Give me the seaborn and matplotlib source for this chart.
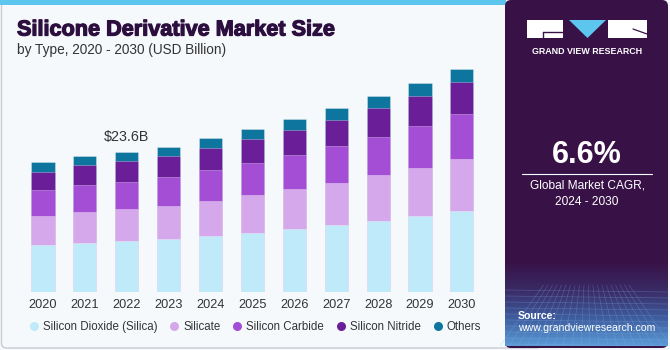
import numpy as np
import pandas as pd
import matplotlib
matplotlib.use("Agg")
import matplotlib.pyplot as plt
import matplotlib.patheffects as pe
import seaborn as sns
from matplotlib.patches import Rectangle, FancyBboxPatch, Polygon
from matplotlib.lines import Line2D
from matplotlib.colors import LinearSegmentedColormap

# ---------------- data ----------------
years = ["2020", "2021", "2022", "2023", "2024", "2025", "2026", "2027", "2028", "2029", "2030"]
series_names = ["Silicon Dioxide (Silica)", "Silicate", "Silicon Carbide", "Silicon Nitride", "Others"]
silicon_dioxide = [7.89, 8.28, 8.57, 8.91, 9.41, 9.97, 10.60, 11.27, 11.95, 12.79, 13.64]
silicate = [4.90, 5.19, 5.36, 5.58, 5.92, 6.32, 6.76, 7.15, 7.72, 8.16, 8.79]
silicon_carbide = [4.34, 4.51, 4.61, 4.85, 5.19, 5.46, 5.75, 6.15, 6.52, 7.05, 7.55]
silicon_nitride = [3.14, 3.38, 3.50, 3.60, 3.77, 4.01, 4.28, 4.50, 4.90, 5.12, 5.46]
others = [1.59, 1.57, 1.57, 1.57, 1.64, 1.74, 1.81, 1.93, 1.93, 2.10, 2.15]
colors = ["#bfeaf9", "#d5a8eb", "#a44ed6", "#6a1e98", "#0e769e"]
label_year = "2022"
label_text = "$23.6B"

df = pd.DataFrame({"year": years,
                   series_names[0]: silicon_dioxide,
                   series_names[1]: silicate,
                   series_names[2]: silicon_carbide,
                   series_names[3]: silicon_nitride,
                   series_names[4]: others})

sns.set_theme(style="white")
plt.rcParams["font.family"] = ["Liberation Sans", "DejaVu Sans"]

W, H = 670, 350
fig = plt.figure(figsize=(W / 100, H / 100), dpi=100)
fig.patch.set_facecolor("#f5f9fc")

# background canvas in pixel coordinates
bg = fig.add_axes([0, 0, 1, 1], zorder=0)
bg.set_xlim(0, W)
bg.set_ylim(H, 0)
bg.axis("off")

# left panel border
bg.add_patch(FancyBboxPatch((1.5, -10), 540, 358, boxstyle="round,pad=0,rounding_size=5",
                            facecolor="#f5f9fc", edgecolor="#c9ccd0", lw=1.0))
# top stripe
bg.add_patch(Rectangle((0, 0), 506, 4.5, facecolor="#5cc6ee", edgecolor="none"))

# right panel
bg.add_patch(FancyBboxPatch((505, 0), 163, 348, boxstyle="round,pad=0,rounding_size=6",
                            facecolor="#381247", edgecolor="none", zorder=2))
cmap = LinearSegmentedColormap.from_list("g", ["#381247", "#3a2a66", "#3e5c9e", "#5a9ad6"])
grad = np.linspace(0, 1, 100).reshape(-1, 1)
bg.imshow(grad, extent=[505, 668, 346, 262], cmap=cmap, aspect="auto", zorder=3,
          interpolation="bicubic", origin="upper")
# faint grid texture
for yy in np.arange(290, 346, 6):
    bg.plot([505, 668], [yy, yy + 2], color="#8fb6e6", lw=0.4, alpha=0.35, zorder=4)
for xx in np.arange(500, 680, 9):
    bg.plot([587 + (xx - 587) * 0.5, xx], [285, 346], color="#8fb6e6", lw=0.4, alpha=0.35, zorder=4)

# logo
bg.add_patch(Rectangle((527, 20), 36, 18, facecolor="white", edgecolor="none", zorder=5))
bg.add_patch(Polygon([[569, 20], [606, 20], [587.5, 38]], closed=True, facecolor="#5cc6ee",
                     edgecolor="none", zorder=5))
bg.add_patch(Rectangle((608, 20), 39, 18, facecolor="white", edgecolor="none", zorder=5))
bg.plot([543, 563], [31.5, 31.5], color="#381247", lw=1.0, zorder=6)
bg.plot([543, 543], [31.5, 38], color="#381247", lw=1.0, zorder=6)
bg.plot([633, 647], [29, 34], color="#381247", lw=0.9, zorder=6)
bg.text(587, 51, "GRAND VIEW RESEARCH", color="white", fontsize=6.4, fontweight="bold",
        ha="center", va="center", zorder=6)

bg.text(587, 155, "6.6%", color="white", fontsize=22, fontweight="bold", ha="center",
        va="center", zorder=6)
bg.plot([522, 652], [173.5, 173.5], color="white", lw=0.8, zorder=6)
bg.text(587, 186, "Global Market CAGR,", color="white", fontsize=8.6, ha="center",
        va="center", zorder=6)
bg.text(587, 202, "2024 - 2030", color="white", fontsize=8.6, ha="center", va="center", zorder=6)
bg.text(518, 316, "Source:", color="white", fontsize=7.6, fontweight="bold", ha="left",
        va="center", zorder=6)
bg.text(518, 328, "www.grandviewresearch.com", color="white", fontsize=7.6, ha="left",
        va="center", zorder=6)

# titles
bg.text(17, 30, "Silicone Derivative Market Size", color="#2d0f3f", fontsize=15.6,
        fontweight="bold", ha="left", va="center",
        path_effects=[pe.withStroke(linewidth=0.9, foreground="#2d0f3f")])
bg.text(17, 50, "by Type, 2020 - 2030 (USD Billion)", color="#333333", fontsize=9.8,
        ha="left", va="center")

# ---------------- bar chart ----------------
ax_left, ax_right, ax_top, ax_bot = 10, 495, 60, 291.7
ax = fig.add_axes([ax_left / W, (H - ax_bot) / H, (ax_right - ax_left) / W, (ax_bot - ax_top) / H],
                  zorder=1)
ax.patch.set_alpha(0)

cum = df[series_names].cumsum(axis=1)
for name, col in reversed(list(zip(series_names, colors))):
    sns.barplot(x=df["year"], y=cum[name], color=col, saturation=1, width=0.55, ax=ax,
                edgecolor=(1, 1, 1, 0.35), linewidth=0.6)

ax.set_xlim(-0.788, 10.79)
ax.set_ylim(0, 231.7 * 0.169)
ax.set_xlabel("")
ax.set_ylabel("")
ax.set_yticks([])
for s in ax.spines.values():
    s.set_visible(False)
ax.tick_params(axis="x", length=0, pad=5, labelsize=9.2, labelcolor="#333333")

i = years.index(label_year)
ax.text(i, cum[series_names[-1]].iloc[i] + 2.6, label_text, ha="center", va="center",
        fontsize=10.3, color="#333333")

handles = [Line2D([0], [0], marker="o", linestyle="none", markersize=6.5,
                  markerfacecolor=c, markeredgecolor="none") for c in colors]
fig.legend(handles, series_names, loc="center left", bbox_to_anchor=(22 / W, 1 - 327 / H),
           ncol=5, frameon=False, fontsize=8.3, handletextpad=0.3, columnspacing=0.95,
           borderpad=0, handlelength=1.0, labelcolor="#333333")

fig.savefig("out.png", dpi=100, facecolor=fig.get_facecolor())
